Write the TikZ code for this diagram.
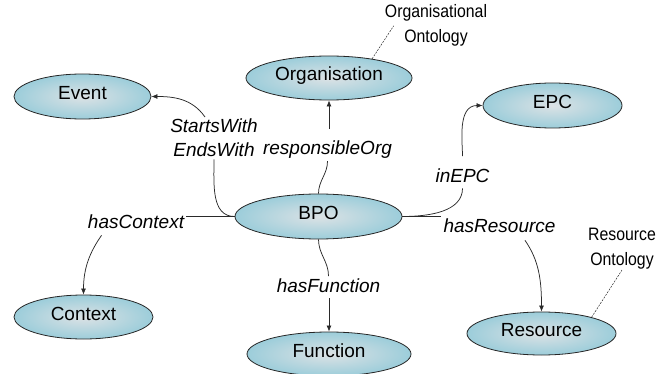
\documentclass[tikz,border=0pt]{standalone}
\usepackage{fontspec}
\setmainfont{Liberation Sans}
\newfontfamily\narrowsans[FakeStretch=0.88]{Liberation Sans}
\usetikzlibrary{shapes.geometric,arrows.meta}
\definecolor{ovalin}{HTML}{DCE2E5}
\definecolor{ovalout}{HTML}{9CCDDA}
\definecolor{edgegray}{HTML}{2A2A2A}

\begin{document}
\begin{tikzpicture}[x=1pt,y=-1pt,
  concept/.style={ellipse, draw=black!85, line width=0.8pt,
    inner color=ovalin, outer color=ovalout, inner sep=0pt,
    font=\fontsize{19}{22}\selectfont, text height=0.7em, text depth=0.1em},
  rel/.style={font=\fontsize{19}{22}\selectfont\itshape, anchor=base, inner sep=2pt},
  note/.style={font=\narrowsans\fontsize{18}{25}\selectfont, align=center, inner sep=1pt},
  link/.style={draw=edgegray, line width=0.75pt},
  arr/.style={link, -{Latex[length=6pt,width=5pt]}},
  hint/.style={draw=edgegray, line width=0.5pt, dash pattern=on 2pt off 1.2pt}]

\useasboundingbox (0,0) rectangle (669,374);

% concepts
\node[concept, minimum width=137pt, minimum height=45pt] (event) at (82.5,96.5) {Event};
\node[concept, minimum width=166pt, minimum height=44pt] (org) at (329,78) {Organisation};
\node[concept, minimum width=139pt, minimum height=45pt] (epc) at (552.5,105.5) {EPC};
\node[concept, minimum width=167pt, minimum height=45pt] (bpo) at (318.5,216.5) {BPO};
\node[concept, minimum width=139pt, minimum height=44pt] (ctx) at (83.5,317) {Context};
\node[concept, minimum width=164pt, minimum height=44pt] (fn) at (329,354) {Function};
\node[concept, minimum width=149pt, minimum height=43pt] (res) at (541.5,333.5) {Resource};

% relation labels
\node[rel] (sw) at (214,133) {StartsWith};
\node[rel] (ew) at (214,157) {EndsWith};
\node[rel] (ro) at (327.5,155) {responsibleOrg};
\node[rel] (ie) at (462.5,183) {inEPC};
\node[rel] (hc) at (136,228) {hasContext};
\node[rel] (hf) at (328.5,292) {hasFunction};
\node[rel] (hr) at (499.5,233) {hasResource};

% ontology notes
\node[note] (oo) at (436,25.75) {Organisational\\Ontology};
\node[note] (rn) at (622,248.25) {Resource\\Ontology};

% relations
\draw[link] (bpo.west) to[out=180,in=-90] (ew.south);
\draw[arr] ([xshift=-9pt]sw.north) to[out=125,in=0] (event.east);

\draw[link] (bpo.north) to[out=90,in=-90] (ro.south);
\draw[arr, shorten <=10pt] (ro.north -| org.south) -- (org.south);

\draw[link, shorten >=3pt] (bpo.east) to[out=0,in=-90] (ie.south);
\draw[arr, shorten <=11pt] (ie.north) to[out=90,in=180] (epc.west);

\draw[link] (bpo.west) -- (bpo.west -| hc.east);
\draw[arr, shorten <=6pt] ([xshift=-31pt]hc.south) to[out=-125,in=90] (ctx.north);

\draw[link] (bpo.south) to[out=-90,in=90] (hf.north);
\draw[arr, shorten <=4pt] (hf.south -| fn.north) -- (fn.north);

\draw[link] (bpo.east) -- (bpo.east -| hr.west);
\draw[arr, shorten <=6pt] ([xshift=22pt]hr.south) to[out=-55,in=90] (res.north);

% note leaders
\draw[hint] (org.24) -- ([xshift=10pt]oo.west);
\draw[hint] (res.18) -- (rn.south);
\end{tikzpicture}
\end{document}
